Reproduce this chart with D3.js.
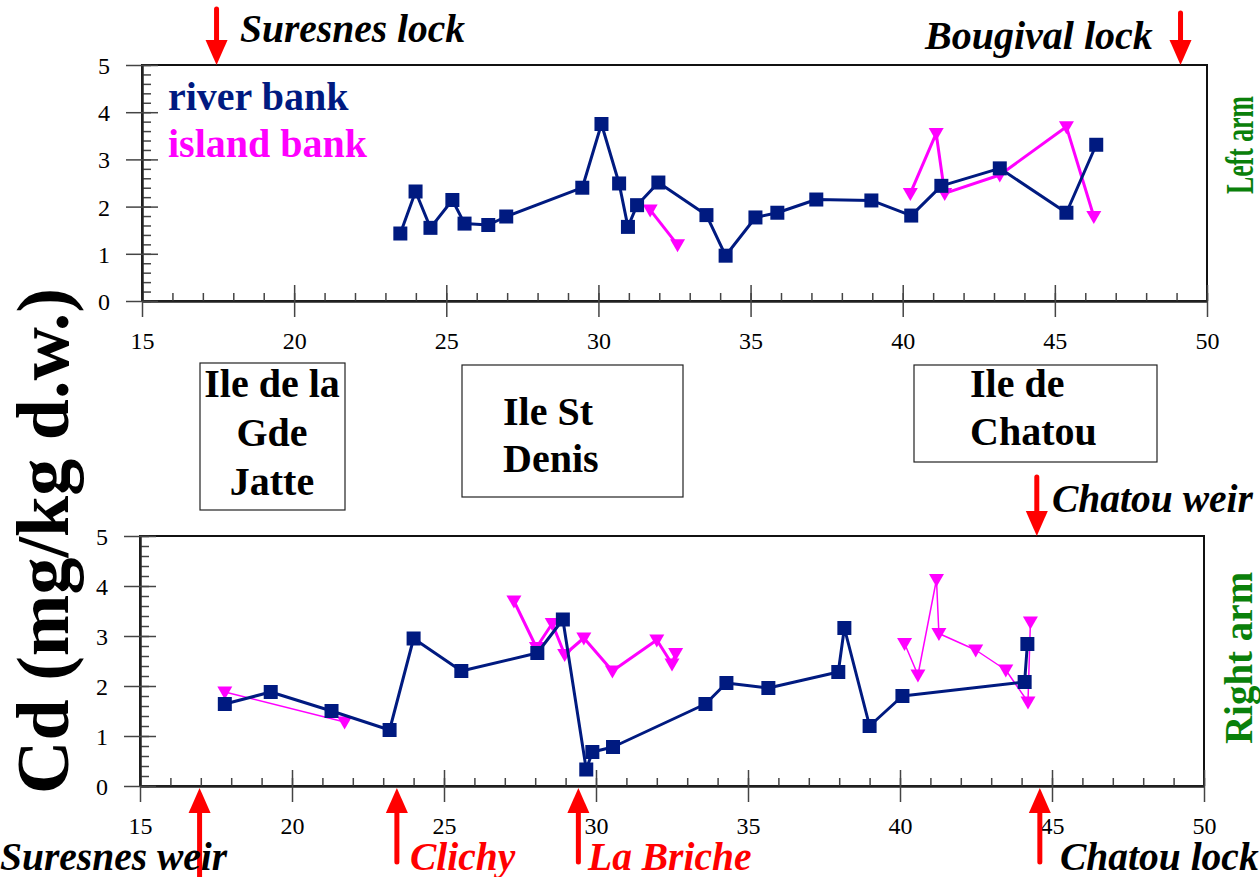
<!DOCTYPE html>
<meta charset="utf-8">
<style>
body { margin: 0; background-color: #ffffff; }
svg text { font-family: "Liberation Serif", "Times New Roman", serif; }
.axis path { stroke: #222; stroke-width: 2px; }
.axis line { stroke: #444; stroke-width: 1.5px; }
</style>
<body>
<script src="https://d3js.org/d3.v7.min.js"></script>
<script>
var width = 1260, height = 877;
var navy = '#001a80', pink = '#ff00ff', red = '#ff0000', green = '#0a800a';

// km along the Seine, Cd (mg/kg d.w.)
var xTicks = [15, 20, 25, 30, 35, 40, 45, 50];
var yTicks = [0, 1, 2, 3, 4, 5];

var leftRiver = [[23.49,1.43],[23.99,2.32],[24.48,1.55],[25.2,2.14],[25.6,1.64],[26.38,1.61],
  [26.97,1.79],[29.47,2.40],[30.1,3.75],[30.68,2.49],[30.97,1.57],[31.27,2.03],[31.97,2.51],
  [33.55,1.82],[34.18,0.96],[35.16,1.77],[35.88,1.87],[37.16,2.15],[38.97,2.13],[40.28,1.81],
  [41.27,2.44],[43.19,2.81],[45.38,1.87],[46.36,3.31]];
var leftIsland1 = [[31.7,1.93],[32.6,1.19]];
var leftIsland2 = [[40.25,2.28],[41.1,3.55],[41.38,2.28],[43.19,2.67],[45.38,3.69],[46.28,1.79]];

var rightRiver = [[17.79,1.64],[19.3,1.88],[21.3,1.50],[23.21,1.12],[24.0,2.95],[25.57,2.30],
  [28.07,2.66],[28.91,3.33],[29.68,0.33],[29.88,0.68],[30.56,0.78],[33.6,1.64],[34.29,2.06],
  [35.67,1.96],[37.97,2.28],[38.17,3.16],[39.0,1.20],[40.08,1.80],[44.1,2.08],[44.19,2.84]];
var rightIsland1 = [[17.79,1.88],[21.73,1.28]];
var rightIsland2 = [[27.3,3.70],[28.04,2.77],[28.56,3.25],[28.97,2.63],[29.6,2.96],[30.54,2.30],
  [32.0,2.92],[32.5,2.44],[32.62,2.65]];
var rightIsland3 = [[40.15,2.85],[40.59,2.22],[41.2,4.13],[41.28,3.05],[42.49,2.72],[43.48,2.32],
  [44.21,1.68],[44.29,3.28]];

var leftSites = [{name: 'Suresnes lock', km: 17.45}, {name: 'Bougival lock', km: 49.13}];
var rightSitesTop = [{name: 'Chatou weir', km: 44.5}];
var rightSitesBottom = [{name: 'Suresnes weir', km: 16.96, color: '#000'},
  {name: 'Clichy', km: 23.45, color: red}, {name: 'La Briche', km: 29.42, color: red},
  {name: 'Chatou lock', km: 44.6, color: '#000'}];

var svg = d3.select('body').append('svg')
  .attr('width', width).attr('height', height);

var topP = {
  x: d3.scaleLinear().domain([15, 50]).range([142, 1207]),
  y: d3.scaleLinear().domain([0, 5]).range([301, 65])
};
var botP = {
  x: d3.scaleLinear().domain([15, 50]).range([140, 1204]),
  y: d3.scaleLinear().domain([0, 5]).range([786, 536])
};

function drawPanel(p) {
  svg.append('rect')
    .attr('x', p.x(15)).attr('y', p.y(5))
    .attr('width', p.x(50) - p.x(15)).attr('height', p.y(0) - p.y(5))
    .attr('fill', 'none').attr('stroke', '#111').attr('stroke-width', 2);

  // minor ticks
  svg.append('g').attr('class', 'axis')
    .attr('transform', 'translate(0,' + p.y(0) + ')')
    .call(d3.axisBottom(p.x).tickValues(d3.range(15, 50.5, 1)).tickSize(-8).tickSizeOuter(0).tickFormat(''));
  svg.append('g').attr('class', 'axis')
    .attr('transform', 'translate(' + p.x(15) + ',0)')
    .call(d3.axisLeft(p.y).tickValues(d3.range(0, 5.01, 0.2)).tickSize(-9).tickSizeOuter(0).tickFormat(''));

  // major ticks crossing the axis
  var gx = svg.append('g').attr('class', 'axis')
    .attr('transform', 'translate(0,' + p.y(0) + ')')
    .call(d3.axisBottom(p.x).tickValues(xTicks).tickSize(16).tickSizeOuter(0).tickFormat(d3.format('d')));
  gx.selectAll('line').attr('y1', -16);
  gx.selectAll('text').attr('y', 48).attr('dy', null)
    .style('font-family', '"Liberation Serif", serif').style('font-size', '24px').attr('fill', '#000');

  var gy = svg.append('g').attr('class', 'axis')
    .attr('transform', 'translate(' + p.x(15) + ',0)')
    .call(d3.axisLeft(p.y).tickValues(yTicks).tickSize(16).tickSizeOuter(0).tickFormat(d3.format('d')));
  gy.selectAll('line').attr('x1', 16);
  gy.selectAll('text').attr('x', -32).attr('dy', '0.35em')
    .style('font-family', '"Liberation Serif", serif').style('font-size', '24px').attr('fill', '#000');
}

function drawSeries(p, data, color, lw, marker) {
  var line = d3.line().x(function(d) { return p.x(d[0]); }).y(function(d) { return p.y(d[1]); });
  svg.append('path').datum(data)
    .attr('d', line).attr('fill', 'none')
    .attr('stroke', color).attr('stroke-width', lw).attr('stroke-linejoin', 'round');
  if (marker == 'square') {
    svg.append('g').selectAll('rect').data(data).enter().append('rect')
      .attr('x', function(d) { return p.x(d[0]) - 7; })
      .attr('y', function(d) { return p.y(d[1]) - 7; })
      .attr('width', 14).attr('height', 14)
      .attr('fill', color);
  } else {
    svg.append('g').selectAll('path').data(data).enter().append('path')
      .attr('d', 'M-7.5,-5.5L7.5,-5.5L0,7.5Z')
      .attr('transform', function(d) { return 'translate(' + p.x(d[0]) + ',' + p.y(d[1]) + ')'; })
      .attr('fill', color);
  }
}

function arrow(x, yTail, yTip) {
  var dir = yTip > yTail ? 1 : -1;
  var headLen = 25, headW = 11;
  svg.append('line')
    .attr('x1', x).attr('x2', x).attr('y1', yTail).attr('y2', yTip - dir * headLen + dir * 2)
    .attr('stroke', red).attr('stroke-width', 5).attr('stroke-linecap', 'round');
  svg.append('path')
    .attr('d', 'M' + (x - headW) + ',' + (yTip - dir * headLen) + 'L' + (x + headW) + ',' + (yTip - dir * headLen) +
      'L' + x + ',' + yTip + 'Z')
    .attr('fill', red);
}

function label(x, y, txt, size, color, italic) {
  return svg.append('text')
    .attr('x', x).attr('y', y)
    .style('font-size', size + 'px').style('font-weight', 'bold')
    .style('font-style', italic ? 'italic' : 'normal')
    .attr('fill', color).text(txt);
}

drawPanel(topP);
drawPanel(botP);

drawSeries(topP, leftIsland1, pink, 3, 'tri');
drawSeries(topP, leftIsland2, pink, 3, 'tri');
drawSeries(topP, leftRiver, navy, 3, 'square');

drawSeries(botP, rightIsland1, pink, 1.5, 'tri');
drawSeries(botP, rightIsland2, pink, 3, 'tri');
drawSeries(botP, rightIsland3, pink, 1.5, 'tri');
drawSeries(botP, rightRiver, navy, 3, 'square');

// legend
label(168, 110, 'river bank', 40, navy, false);
label(168, 157, 'island bank', 40, pink, false);

// locks and weirs
arrow(topP.x(leftSites[0].km), 9, topP.y(5));
label(240, 42, leftSites[0].name, 39.5, '#000', true);
arrow(topP.x(leftSites[1].km), 13, topP.y(5));
label(925, 49, leftSites[1].name, 40, '#000', true);

arrow(botP.x(rightSitesTop[0].km), 477, botP.y(5));
label(1052, 512, rightSitesTop[0].name, 39.5, '#000', true);

var textX = [0, 410, 588, 1060];
var tails = [900, 862, 862, 862];
rightSitesBottom.forEach(function(s, i) {
  arrow(botP.x(s.km), tails[i], botP.y(0) + 2);
  label(textX[i], 870, s.name, 39.5, s.color, true);
});

// islands
var boxes = [
  {x: 200, y: 363, w: 145, h: 147, lines: ['Ile de la', 'Gde', 'Jatte'], tx: 272, anchor: 'middle', ty: [397, 446, 495]},
  {x: 462, y: 365, w: 221, h: 132, lines: ['Ile St', 'Denis'], tx: 503, anchor: 'start', ty: [425, 472]},
  {x: 914, y: 365, w: 243, h: 97, lines: ['Ile de', 'Chatou'], tx: 970, anchor: 'start', ty: [397, 445]}
];
boxes.forEach(function(b) {
  svg.append('rect').attr('x', b.x).attr('y', b.y).attr('width', b.w).attr('height', b.h)
    .attr('fill', 'none').attr('stroke', '#222').attr('stroke-width', 1.2);
  b.lines.forEach(function(t, i) {
    label(b.tx, b.ty[i], t, 40, '#000', false).attr('text-anchor', b.anchor);
  });
});

// arm labels
svg.append('text').attr('transform', 'translate(1253,145) rotate(-90)')
  .attr('text-anchor', 'middle').style('font-size', '40px').style('font-weight', 'bold')
  .attr('textLength', 98).attr('lengthAdjust', 'spacingAndGlyphs')
  .attr('fill', green).text('Left arm');
svg.append('text').attr('transform', 'translate(1252,658) rotate(-90)')
  .attr('text-anchor', 'middle').style('font-size', '39px').style('font-weight', 'bold')
  .attr('fill', green).text('Right arm');

// y title
svg.append('text').attr('transform', 'translate(68,541) rotate(-90)')
  .attr('text-anchor', 'middle').style('font-size', '74px').style('font-weight', 'bold')
  .attr('fill', '#000').text('Cd (mg/kg d.w.)');
</script>
</body>
